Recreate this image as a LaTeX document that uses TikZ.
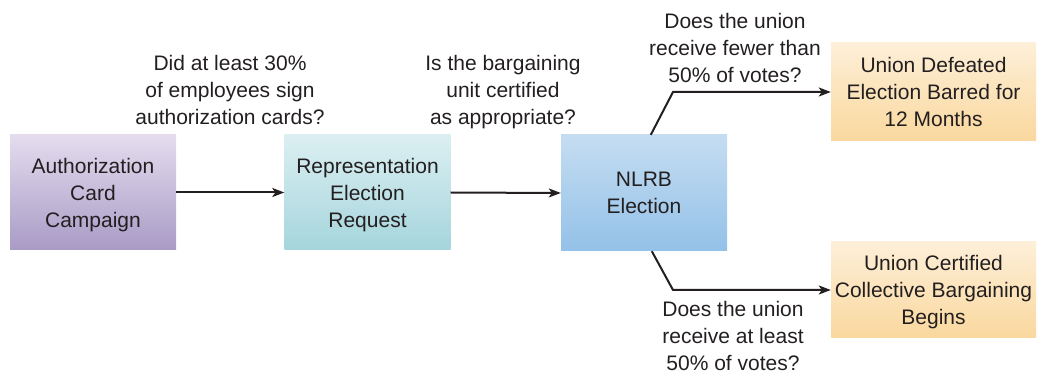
\documentclass[tikz,border=0pt]{standalone}
\usepackage{fontspec}
\setmainfont{Liberation Sans}
\usetikzlibrary{arrows.meta}
\definecolor{txt}{HTML}{231F20}
\begin{document}
\begin{tikzpicture}[x=1pt,y=-1pt,
  box/.style={minimum width=166pt,inner sep=0pt,align=center,text=txt,text depth=0pt,
    font=\fontsize{21}{27}\selectfont},
  lbl/.style={inner sep=0pt,align=center,text=txt,text depth=0pt,font=\fontsize{21}{27}\selectfont},
  arr/.style={line width=2pt,draw=txt,-{Stealth[length=12pt,width=9pt,inset=3pt]}}]
\useasboundingbox (0,0) rectangle (1037,374);
\node[box,minimum height=115pt,top color={rgb,255:red,228;green,220;blue,238},bottom color={rgb,255:red,169;green,155;blue,198}] (a) at (93,192.5) {Authorization\\Card\\Campaign};
\node[box,minimum height=115pt,top color={rgb,255:red,219;green,239;blue,242},bottom color={rgb,255:red,165;green,213;blue,220}] (b) at (367.5,192.5) {Representation\\Election\\Request};
\node[box,minimum height=116pt,top color={rgb,255:red,197;green,221;blue,241},bottom color={rgb,255:red,147;green,193;blue,232}] (c) at (644,193) {NLRB\\Election};
\node[box,minimum width=205pt,minimum height=98pt,top color={rgb,255:red,253;green,239;blue,216},bottom color={rgb,255:red,250;green,216;blue,158}] (d) at (933.5,92) {Union Defeated\\Election Barred for\\12 Months};
\node[box,minimum width=205pt,minimum height=96pt,top color={rgb,255:red,253;green,239;blue,216},bottom color={rgb,255:red,250;green,216;blue,158}] (e) at (933.5,290) {Union Certified\\Collective Bargaining\\Begins};
\node[lbl] (q1) at (230,90) {Did at least 30\%\\of employees sign\\authorization cards?};
\node[lbl] (q2) at (503,90) {Is the bargaining\\unit certified\\as appropriate?};
\node[lbl] (q3) at (735,48) {Does the union\\receive fewer than\\50\% of votes?};
\node[lbl] (q4) at (733,336) {Does the union\\receive at least\\50\% of votes?};
\coordinate (k1) at (673,92);
\coordinate (k2) at (673,290);
\draw[arr] (a.east) -- (b.west);
\draw[arr] (b.east) -- (c.west);
\draw[arr] ([xshift=90pt]c.north west) -- (k1) -- (d.west);
\draw[arr] ([xshift=91pt]c.south west) -- (k2) -- (e.west);
\end{tikzpicture}
\end{document}
